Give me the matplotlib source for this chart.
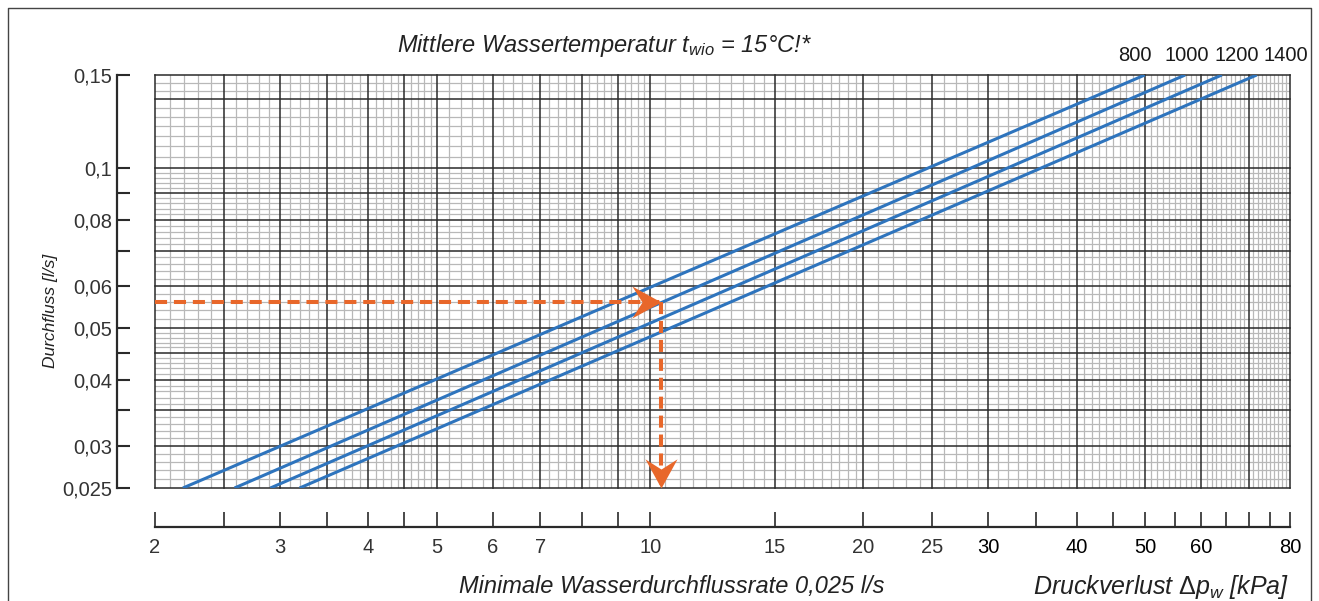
import numpy as np
import matplotlib
matplotlib.use('Agg')
import matplotlib.pyplot as plt
from matplotlib.ticker import FixedLocator, FixedFormatter, NullLocator
from matplotlib.lines import Line2D
from matplotlib.path import Path

plt.rcParams['font.family'] = ['Liberation Sans', 'DejaVu Sans']
plt.rcParams['mathtext.fontset'] = 'custom'
plt.rcParams['mathtext.it'] = 'Liberation Sans:italic'
plt.rcParams['mathtext.rm'] = 'Liberation Sans'

# Flow range covered by the curves [l/s]
flow_ends = [0.025, 0.15]

# Pressure loss [kPa] at the bottom and top end of each curve
curve_names = ['800', '1000', '1200', '1400']
dp_800 = [2.19, 49.9]
dp_1000 = [2.59, 56.9]
dp_1200 = [2.91, 64.1]
dp_1400 = [3.20, 71.8]

# Example reading (orange arrows)
example_flow = 0.056
example_dp = 10.36

# Axis ticks
x_ticks = [2, 2.5, 3, 3.5, 4, 4.5, 5, 6, 7, 8, 9, 10, 15, 20, 25, 30, 35, 40, 45, 50, 55, 60, 65, 70, 75, 80]
x_labels = ['2', '', '3', '', '4', '', '5', '6', '7', '', '', '10', '15', '20', '25', '30', '', '40', '', '50', '',
            '60', '', '', '', '80']
y_ticks = [0.025, 0.03, 0.035, 0.04, 0.045, 0.05, 0.06, 0.07, 0.08, 0.09, 0.1, 0.15]
y_labels = ['0,025', '0,03', '', '0,04', '', '0,05', '0,06', '', '0,08', '', '0,1', '0,15']

blue = '#2E74BD'
orange = '#E8672A'
dark = '#2a2a2a'
light = '#b8b8b8'

fig = plt.figure(figsize=(13.19, 6.01), dpi=100)
ax = fig.add_axes([0.1175, 0.188, 0.8605, 0.6872])
ax.set_xscale('log')
ax.set_yscale('log')
ax.set_xlim(2, 80)
ax.set_ylim(0.025, 0.15)

# Log paper grid
v_major = [2, 2.5, 3, 3.5, 4, 4.5, 5, 6, 7, 8, 9, 10, 15, 20, 25, 30, 40, 50, 60, 70, 80]
v_minor = np.concatenate([np.arange(2, 5, 0.1), np.arange(5, 10, 0.2), np.arange(10, 20, 0.5),
                          np.arange(20, 80, 1)])
h_major = [0.025, 0.03, 0.035, 0.04, 0.045, 0.05, 0.06, 0.07, 0.08, 0.09, 0.1, 0.135, 0.15]
h_minor = np.concatenate([np.arange(0.025, 0.05, 0.001), np.arange(0.05, 0.1, 0.002),
                          np.arange(0.1, 0.15, 0.005)])

for v in v_minor:
    if not np.any(np.isclose(v, v_major)):
        ax.axvline(v, color=light, lw=0.9, zorder=1)
for h in h_minor:
    if not np.any(np.isclose(h, h_major)):
        ax.axhline(h, color=light, lw=0.9, zorder=1)
for v in v_major:
    ax.axvline(v, color=dark, lw=1.1, zorder=2, clip_on=False)
for h in h_major:
    ax.axhline(h, color=dark, lw=1.1, zorder=2, clip_on=False)

# Pressure loss curves
label_offsets = [-7, 1.5, 11, 21]
for name, dp, dx in zip(curve_names, [dp_800, dp_1000, dp_1200, dp_1400], label_offsets):
    ax.plot(dp, flow_ends, color=blue, lw=2.2, zorder=4, solid_capstyle='butt')
    ax.annotate(name, xy=(dp[-1], flow_ends[-1]), xytext=(dx, 14), textcoords='offset points',
                ha='center', va='center', fontsize=14.5, color='#1a1a1a', annotation_clip=False)

# Example reading, dashed with stealth arrow heads
ax.plot([2, example_dp], [example_flow, example_flow], color=orange, lw=2.9, dashes=(3, 1.7),
        zorder=5, clip_on=False)
ax.plot([example_dp, example_dp], [example_flow, flow_ends[0]], color=orange, lw=2.9, dashes=(3, 1.7),
        zorder=5)
head_right = Path([(0, 0), (-1.0, 0.55), (-0.65, 0), (-1.0, -0.55), (0, 0)],
                  [Path.MOVETO, Path.LINETO, Path.LINETO, Path.LINETO, Path.CLOSEPOLY])
head_down = Path([(0, 0), (0.55, 1.0), (0, 0.65), (-0.55, 1.0), (0, 0)],
                 [Path.MOVETO, Path.LINETO, Path.LINETO, Path.LINETO, Path.CLOSEPOLY])
ax.plot([example_dp], [example_flow], marker=head_right, markersize=42, color=orange, mew=0, zorder=6)
ax.plot([example_dp], [flow_ends[0]], marker=head_down, markersize=42, color=orange, mew=0, zorder=6,
        clip_on=False)

# Axes: only offset left and bottom scales
for s in ['top', 'right']:
    ax.spines[s].set_visible(False)
ax.spines['left'].set_position(('outward', 27.4))
ax.spines['bottom'].set_position(('outward', 28))
ax.spines['left'].set_linewidth(1.6)
ax.spines['bottom'].set_linewidth(1.6)
ax.spines['left'].set_color(dark)
ax.spines['bottom'].set_color(dark)

ax.xaxis.set_major_locator(FixedLocator(x_ticks))
ax.xaxis.set_major_formatter(FixedFormatter(x_labels))
ax.xaxis.set_minor_locator(NullLocator())
ax.yaxis.set_major_locator(FixedLocator(y_ticks))
ax.yaxis.set_major_formatter(FixedFormatter(y_labels))
ax.yaxis.set_minor_locator(NullLocator())
ax.tick_params(axis='x', direction='in', length=10.8, width=1.2, pad=8, labelsize=14.5,
               color=dark, labelcolor='#333333')
ax.tick_params(axis='y', direction='in', length=9.4, width=1.5, pad=3.5, labelsize=14.5,
               color=dark, labelcolor='#333333')
for lab in ax.get_xticklabels():
    if lab.get_text() in ['30', '40', '50', '60', '80']:
        lab.set_color('black')

# Texts
fig.text(0.458, 0.925, 'Mittlere Wassertemperatur $t_{wio}$ = 15°C!*', ha='center', va='center',
         fontsize=17, style='italic', color='#222222')
fig.text(0.038, 0.4825, 'Durchfluss [l/s]', rotation=90, ha='center', va='center',
         fontsize=12.5, style='italic', color='#222222')
fig.text(0.509, 0.0233, 'Minimale Wasserdurchflussrate 0,025 l/s', ha='center', va='center',
         fontsize=17, style='italic', color='#222222')
fig.text(0.880, 0.0233, 'Druckverlust $\\Delta p_w$ [kPa]', ha='center', va='center',
         fontsize=18, style='italic', color='#222222')

# Outer frame
fig.add_artist(Line2D([8 / 1319, 8 / 1319, 1311 / 1319, 1311 / 1319], [0, 1 - 8 / 601, 1 - 8 / 601, 0],
                      transform=fig.transFigure, color='#444444', lw=1.0))

fig.savefig('out.png', dpi=100)
